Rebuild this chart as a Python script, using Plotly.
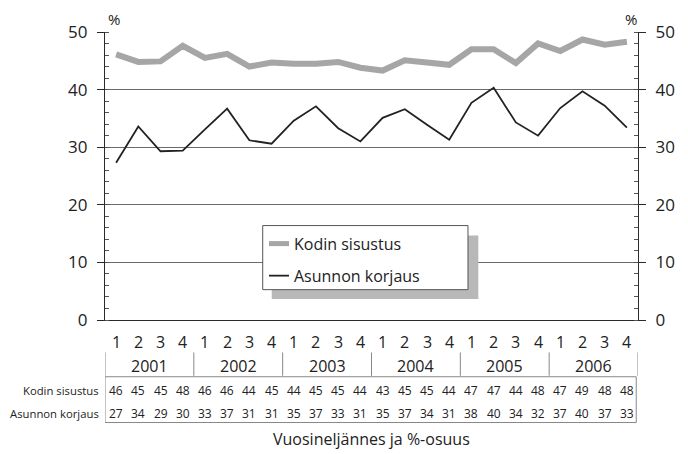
import plotly.graph_objects as go

years = ["2001", "2002", "2003", "2004", "2005", "2006"]
quarters = ["1", "2", "3", "4"]

# Values
kodin_sisustus = [46.1, 44.8, 44.9, 47.6, 45.5, 46.2, 44.0, 44.7,
                  44.5, 44.5, 44.8, 43.8, 43.3, 45.1, 44.7, 44.3,
                  47.0, 47.0, 44.6, 48.0, 46.7, 48.7, 47.8, 48.3]
asunnon_korjaus = [27.3, 33.6, 29.3, 29.4, 33.1, 36.7, 31.2, 30.6,
                   34.6, 37.1, 33.3, 31.0, 35.1, 36.6, 33.9, 31.3,
                   37.7, 40.3, 34.3, 32.0, 36.8, 39.7, 37.2, 33.4]

# Values printed in the table under the chart
table_kodin = [46, 45, 45, 48, 46, 46, 44, 45, 44, 45, 45, 44,
               43, 45, 45, 44, 47, 47, 44, 48, 47, 49, 48, 48]
table_asunnon = [27, 34, 29, 30, 33, 37, 31, 31, 35, 37, 33, 31,
                 35, 37, 34, 31, 38, 40, 34, 32, 37, 40, 37, 33]

series_names = ["Kodin sisustus", "Asunnon korjaus"]
x_title = "Vuosineljännes ja %-osuus"
y_ticks = [0, 10, 20, 30, 40, 50]

cats = [f"{y} Q{q}" for y in years for q in quarters]
FONT = "Open Sans"
DARK = "#2a2a2a"

fig = go.Figure()
fig.add_trace(go.Scatter(x=cats, y=kodin_sisustus, mode="lines", name=series_names[0],
                         line=dict(color="#a6a6a6", width=6), yaxis="y", showlegend=False))
fig.add_trace(go.Scatter(x=cats, y=asunnon_korjaus, mode="lines", name=series_names[1],
                         line=dict(color="#222222", width=1.8), yaxis="y2", showlegend=False))

yax = dict(range=[0, 50], tickvals=y_ticks, ticks="outside", ticklen=7, tickcolor=DARK,
           showline=True, linecolor=DARK, linewidth=1.2, showgrid=True, gridcolor="#6a6a6a",
           gridwidth=1, zeroline=False, tickfont=dict(family=FONT, size=17, color="#222"),
           ticklabelstandoff=6,
           minor=dict(dtick=2, ticks="inside", ticklen=4, tickcolor="#555", showgrid=False))

annotations = []
shapes = []

# quarter labels and table values
for i, c in enumerate(cats):
    annotations.append(dict(x=i, y=-0.078, xref="x", yref="paper", text=quarters[i % 4],
                            showarrow=False, font=dict(family=FONT, size=16, color="#222"),
                            xanchor="center", yanchor="middle"))
    annotations.append(dict(x=i, y=-0.2434, xref="x", yref="paper", text=str(table_kodin[i]),
                            showarrow=False, font=dict(family=FONT, size=12, color="#222"),
                            xanchor="center", yanchor="middle"))
    annotations.append(dict(x=i, y=-0.3248, xref="x", yref="paper", text=str(table_asunnon[i]),
                            showarrow=False, font=dict(family=FONT, size=12, color="#222"),
                            xanchor="center", yanchor="middle"))

# year labels and separators
for j, yr in enumerate(years):
    annotations.append(dict(x=j * 4 + 1.5, y=-0.159, xref="x", yref="paper", text=yr,
                            showarrow=False, font=dict(family=FONT, size=16, color="#222"),
                            xanchor="center", yanchor="middle"))
for j in range(len(years) + 1):
    shapes.append(dict(type="line", xref="x", yref="paper", x0=j * 4 - 0.5, x1=j * 4 - 0.5,
                       y0=-0.1127, y1=-0.1937, line=dict(color="#888", width=1)))

# table box
shapes.append(dict(type="rect", xref="x", yref="paper", x0=-0.5, x1=23.42, y0=-0.197, y1=-0.356,
                   line=dict(color="#888", width=1)))

# row labels
annotations.append(dict(x=-0.0075, y=-0.2434, xref="paper", yref="paper", text=series_names[0],
                        showarrow=False, font=dict(family=FONT, size=11.3, color="#222"),
                        xanchor="right", yanchor="middle"))
annotations.append(dict(x=-0.0075, y=-0.3248, xref="paper", yref="paper", text=series_names[1],
                        showarrow=False, font=dict(family=FONT, size=11.3, color="#222"),
                        xanchor="right", yanchor="middle"))

# x title
annotations.append(dict(x=0.5, y=-0.4127, xref="paper", yref="paper", text=x_title,
                        showarrow=False, font=dict(family=FONT, size=16, color="#222"),
                        xanchor="center", yanchor="middle"))

# percent signs
annotations.append(dict(x=0.017, y=1.044, xref="paper", yref="paper", text="%",
                        showarrow=False, font=dict(family=FONT, size=15, color="#222"),
                        xanchor="center", yanchor="middle"))
annotations.append(dict(x=0.987, y=1.044, xref="paper", yref="paper", text="%",
                        showarrow=False, font=dict(family=FONT, size=15, color="#222"),
                        xanchor="center", yanchor="middle"))

# legend (drawn manually with shadow)
shapes.append(dict(type="rect", xref="paper", yref="paper", x0=0.3128, x1=0.7004, y0=0.073, y1=0.2931,
                   fillcolor="#b8b8b8", line=dict(width=0), layer="above"))
shapes.append(dict(type="rect", xref="paper", yref="paper", x0=0.2959, x1=0.681, y0=0.1054, y1=0.3279,
                   fillcolor="white", line=dict(color="#555", width=1), layer="above"))
shapes.append(dict(type="line", xref="paper", yref="paper", x0=0.3077, x1=0.3452, y0=0.2653, y1=0.2653,
                   line=dict(color="#a6a6a6", width=5), layer="above"))
shapes.append(dict(type="line", xref="paper", yref="paper", x0=0.3077, x1=0.3452, y0=0.154, y1=0.154,
                   line=dict(color="#222", width=1.8), layer="above"))
annotations.append(dict(x=0.3508, y=0.2653, xref="paper", yref="paper", text=series_names[0],
                        showarrow=False, font=dict(family=FONT, size=16, color="#222"),
                        xanchor="left", yanchor="middle"))
annotations.append(dict(x=0.3508, y=0.154, xref="paper", yref="paper", text=series_names[1],
                        showarrow=False, font=dict(family=FONT, size=16, color="#222"),
                        xanchor="left", yanchor="middle"))

fig.update_layout(
    width=688, height=454, autosize=False,
    margin=dict(l=97, r=58, t=24, b=142),
    paper_bgcolor="white", plot_bgcolor="white",
    font=dict(family=FONT, color="#222"),
    xaxis=dict(type="category", range=[-0.5, 23.5], showticklabels=False, ticks="",
               showline=True, linecolor=DARK, linewidth=1.2, showgrid=False, zeroline=False),
    yaxis=yax,
    yaxis2=dict(yax, overlaying="y", side="right", showgrid=False),
    showlegend=False,
    shapes=shapes,
    annotations=annotations,
)

fig.write_html("out.html")
